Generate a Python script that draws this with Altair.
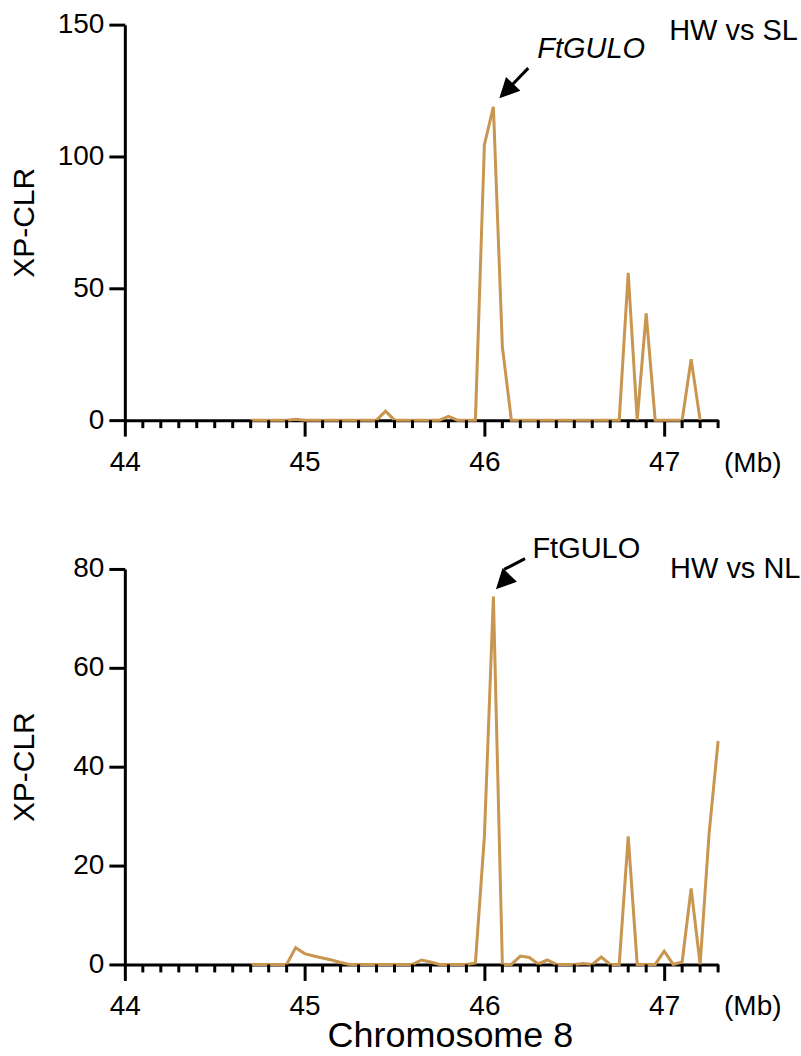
import altair as alt
import pandas as pd

FONT = "Liberation Sans"
LINE = "#C89650"
W, H = 594, 396

# ---------------- data ----------------
pos_sl = [44.70, 44.75, 44.80, 44.85, 44.90, 44.95, 45.00, 45.05, 45.10, 45.15,
          45.20, 45.25, 45.30, 45.35, 45.40, 45.45, 45.50, 45.55, 45.60, 45.65,
          45.70, 45.75, 45.80, 45.85, 45.90, 45.95, 46.00, 46.05, 46.10, 46.15,
          46.20, 46.25, 46.30, 46.35, 46.40, 46.45, 46.50, 46.55, 46.60, 46.65,
          46.70, 46.75, 46.80, 46.85, 46.90, 46.95, 47.00, 47.05, 47.10, 47.15,
          47.20]
xpclr_sl = [0, 0, 0, 0, 0, 0.3, 0, 0, 0, 0,
            0, 0, 0, 0, 0, 3.4, 0, 0, 0, 0,
            0, 0, 1.4, 0, 0, 0, 104.5, 118.8, 27.8, 0,
            0, 0, 0, 0, 0, 0, 0, 0, 0, 0,
            0, 0, 55.9, 0, 40.5, 0, 0, 0, 0, 23.1,
            0]

pos_nl = [44.70, 44.75, 44.80, 44.85, 44.90, 44.95, 45.00, 45.05, 45.10, 45.15,
          45.20, 45.25, 45.30, 45.35, 45.40, 45.45, 45.50, 45.55, 45.60, 45.65,
          45.70, 45.75, 45.80, 45.85, 45.90, 45.95, 46.00, 46.05, 46.10, 46.15,
          46.20, 46.25, 46.30, 46.35, 46.40, 46.45, 46.50, 46.55, 46.60, 46.65,
          46.70, 46.75, 46.80, 46.85, 46.90, 46.95, 47.00, 47.05, 47.10, 47.15,
          47.20, 47.25, 47.30]
xpclr_nl = [0, 0, 0, 0, 0, 3.4, 2.2, 1.7, 1.3, 0.9,
            0.4, 0, 0, 0, 0, 0, 0, 0, 0, 0.9,
            0.5, 0, 0, 0, 0, 0.3, 25.9, 74.4, 0, 0,
            1.7, 1.4, 0.1, 0.9, 0, 0, 0, 0.2, 0, 1.5,
            0, 0, 25.9, 0, 0, 0, 2.7, 0, 0.5, 15.4,
            0, 26.5, 45.2]

major_ticks = [44, 45, 46, 47]
minor_ticks = [44.1, 44.2, 44.3, 44.4, 44.5, 44.6, 44.7, 44.8, 44.9,
               45.1, 45.2, 45.3, 45.4, 45.5, 45.6, 45.7, 45.8, 45.9,
               46.1, 46.2, 46.3, 46.4, 46.5, 46.6, 46.7, 46.8, 46.9,
               47.1, 47.2, 47.3]

yticks_sl = [0, 50, 100, 150]
yticks_nl = [0, 20, 40, 60, 80]

# annotation anchors in data coordinates
ann_sl = dict(gene=("FtGULO", 46.294, 137.3), comp=("HW vs SL", 47.028, 144.1),
              arrow=(46.244, 133.5, 46.129, 125.4), tip=(46.083, 122.1), angle=224,
              mb=(47.333, -19.7))
ann_nl = dict(gene=("FtGULO", 46.267, 82.2), comp=("HW vs NL", 47.033, 78.2),
              arrow=(46.226, 82.1, 46.110, 79.9), tip=(46.064, 75.9), angle=224,
              mb=(47.333, -10.3))
xtitle = ("Chromosome 8", 45.811, -16.6)


def panel(pos, vals, ymax, yticks, ann, italic, with_xtitle):
    xs = alt.Scale(domain=[44, 47.3], nice=False, zero=False)
    ys = alt.Scale(domain=[0, ymax], nice=False, zero=True)
    xaxis = alt.Axis(values=major_ticks, format="d", title=None, grid=False,
                     tickSize=16, tickWidth=3, tickColor="black",
                     domainWidth=3, domainColor="black",
                     labelFont=FONT, labelFontSize=28, labelColor="black",
                     labelPadding=12, labelOverlap=False, labelFlush=False)
    yaxis = alt.Axis(values=yticks, title="XP-CLR", grid=False,
                     tickSize=16, tickWidth=3, tickColor="black",
                     domainWidth=3, domainColor="black",
                     labelFont=FONT, labelFontSize=28, labelColor="black",
                     labelPadding=5, labelOverlap=False, labelFlush=False,
                     titleFont=FONT, titleFontSize=30, titleFontWeight="normal",
                     titleColor="black", titleAngle=270, titleBaseline="alphabetic",
                     titleAlign="center", titleX=-91, titleY=H / 2)

    def X(f):
        return alt.X(f, type="quantitative", scale=xs, axis=xaxis)

    def Y(f):
        return alt.Y(f, type="quantitative", scale=ys, axis=yaxis)

    df = pd.DataFrame({"pos": pos, "xpclr": vals})
    line = alt.Chart(df).mark_line(color=LINE, strokeWidth=3, strokeJoin="miter").encode(
        x=X("pos"), y=Y("xpclr"))
    minor = alt.Chart(pd.DataFrame({"pos": minor_ticks})).mark_rule(
        color="black", strokeWidth=3).encode(
        x=X("pos"), y=alt.value(H), y2=alt.value(H + 8))
    g = ann["gene"]
    gene = alt.Chart(pd.DataFrame({"pos": [g[1]], "xpclr": [g[2]], "t": [g[0]]})).mark_text(
        font=FONT, fontSize=29, fontStyle="italic" if italic else "normal",
        align="left", baseline="alphabetic", color="black").encode(
        x=X("pos"), y=Y("xpclr"), text="t:N")
    c = ann["comp"]
    comp = alt.Chart(pd.DataFrame({"pos": [c[1]], "xpclr": [c[2]], "t": [c[0]]})).mark_text(
        font=FONT, fontSize=29, align="left", baseline="alphabetic", color="black").encode(
        x=X("pos"), y=Y("xpclr"), text="t:N")
    m = ann["mb"]
    mb = alt.Chart(pd.DataFrame({"pos": [m[0]], "xpclr": [m[1]], "t": ["(Mb)"]})).mark_text(
        font=FONT, fontSize=28, align="left", baseline="alphabetic", color="black").encode(
        x=X("pos"), y=Y("xpclr"), text="t:N")
    a = ann["arrow"]
    shaft = alt.Chart(pd.DataFrame({"pos": [a[0]], "xpclr": [a[1]], "x2": [a[2]], "y2": [a[3]]})).mark_rule(
        color="black", strokeWidth=3).encode(
        x=X("pos"), y=Y("xpclr"), x2="x2:Q", y2="y2:Q")
    t = ann["tip"]
    head = alt.Chart(pd.DataFrame({"pos": [t[0]], "xpclr": [t[1]]})).mark_point(
        shape="M0,0L-0.5,1L0.5,1Z", size=1600, filled=True, color="black",
        opacity=1, strokeWidth=0, angle=ann["angle"]).encode(
        x=X("pos"), y=Y("xpclr"))
    layers = [line, minor, gene, comp, mb, shaft, head]
    if with_xtitle:
        xt = alt.Chart(pd.DataFrame({"pos": [xtitle[1]], "xpclr": [xtitle[2]], "t": [xtitle[0]]})).mark_text(
            font=FONT, fontSize=36, align="center", baseline="alphabetic", color="black").encode(
            x=X("pos"), y=Y("xpclr"), text="t:N")
        layers.append(xt)
    return alt.layer(*layers).properties(width=W, height=H)


top = panel(pos_sl, xpclr_sl, 150, yticks_sl, ann_sl, True, False)
bottom = panel(pos_nl, xpclr_nl, 80, yticks_nl, ann_nl, False, True)

chart = alt.vconcat(top, bottom, spacing=149, bounds="flush").properties(
    padding={"left": 10, "top": 10, "right": 0, "bottom": 0},
    background="white",
).configure_view(stroke="transparent", strokeWidth=0)

chart.save("out.html", embed_options={"renderer": "svg", "actions": False})
